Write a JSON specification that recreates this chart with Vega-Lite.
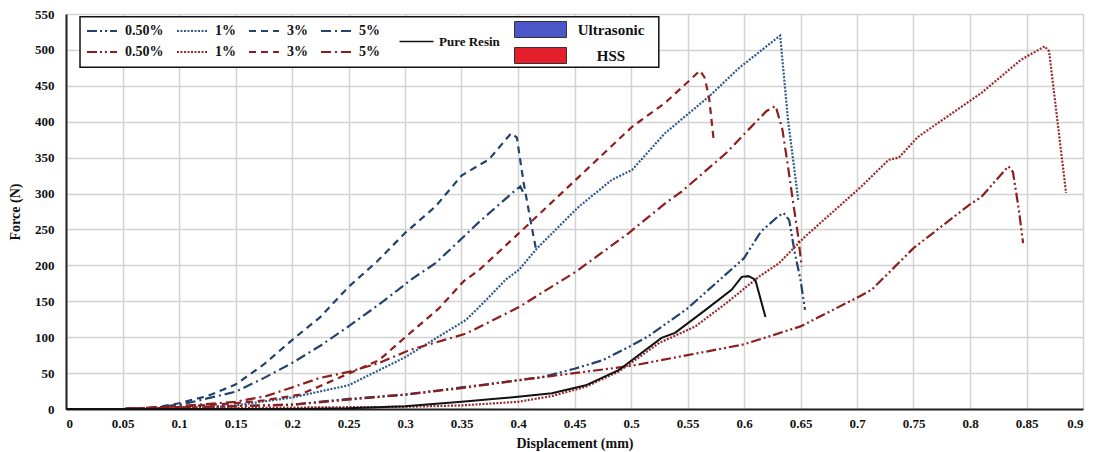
{
  "$schema": "https://vega.github.io/schema/vega-lite/v6.json",
  "width": 1017,
  "height": 395,
  "autosize": {"type": "none"},
  "padding": {"left": 66, "top": 14, "right": 21, "bottom": 43},
  "background": "white",
  "config": {
    "view": {"stroke": null},
    "font": "Liberation Serif",
    "axisX": {
      "values": [0,0.05,0.1,0.15,0.2,0.25,0.3,0.35,0.4,0.45,0.5,0.55,0.6,0.65,0.7,0.75,0.8,0.85,0.9],
      "labelExpr": "format(datum.value, '~g')",
      "grid": true, "gridColor": "#d2d2d2", "gridWidth": 1.5,
      "domainColor": "#222", "domainWidth": 2, "ticks": false, "labelOverlap": false,
      "labelFont": "Liberation Serif", "labelFontWeight": "bold", "labelFontSize": 13, "labelColor": "#111", "labelPadding": 8,
      "titleFont": "Liberation Serif", "titleFontWeight": "bold", "titleFontSize": 14, "titleColor": "#111", "titlePadding": 6
    },
    "axisY": {
      "values": [0,50,100,150,200,250,300,350,400,450,500,550],
      "grid": true, "gridColor": "#d2d2d2", "gridWidth": 1.5,
      "domainColor": "#222", "domainWidth": 2, "ticks": false, "labelOverlap": false,
      "labelFont": "Liberation Serif", "labelFontWeight": "bold", "labelFontSize": 13, "labelColor": "#111", "labelPadding": 12,
      "titleFont": "Liberation Serif", "titleFontWeight": "bold", "titleFontSize": 14, "titleColor": "#111", "titlePadding": 12
    }
  },
  "datasets": {
    "curves": [
      {"series":"U 0.50%","d":0,"f":0},{"series":"U 0.50%","d":0.05,"f":0},{"series":"U 0.50%","d":0.1,"f":2},{"series":"U 0.50%","d":0.15,"f":4},{"series":"U 0.50%","d":0.2,"f":6},{"series":"U 0.50%","d":0.25,"f":14},{"series":"U 0.50%","d":0.3,"f":20},{"series":"U 0.50%","d":0.35,"f":30},{"series":"U 0.50%","d":0.4,"f":40},{"series":"U 0.50%","d":0.42,"f":44},{"series":"U 0.50%","d":0.45,"f":56},{"series":"U 0.50%","d":0.475,"f":68},{"series":"U 0.50%","d":0.5,"f":88},{"series":"U 0.50%","d":0.515,"f":101},{"series":"U 0.50%","d":0.55,"f":140},{"series":"U 0.50%","d":0.58,"f":182},{"series":"U 0.50%","d":0.6,"f":210},{"series":"U 0.50%","d":0.615,"f":247},{"series":"U 0.50%","d":0.63,"f":268},{"series":"U 0.50%","d":0.635,"f":273},{"series":"U 0.50%","d":0.64,"f":263},{"series":"U 0.50%","d":0.645,"f":217},{"series":"U 0.50%","d":0.65,"f":180},{"series":"U 0.50%","d":0.654,"f":138},
      {"series":"U 1%","d":0,"f":0},{"series":"U 1%","d":0.05,"f":0},{"series":"U 1%","d":0.1,"f":2},{"series":"U 1%","d":0.133,"f":3},{"series":"U 1%","d":0.15,"f":5},{"series":"U 1%","d":0.2,"f":16},{"series":"U 1%","d":0.25,"f":33},{"series":"U 1%","d":0.3,"f":72},{"series":"U 1%","d":0.33,"f":101},{"series":"U 1%","d":0.354,"f":124},{"series":"U 1%","d":0.372,"f":152},{"series":"U 1%","d":0.389,"f":180},{"series":"U 1%","d":0.401,"f":194},{"series":"U 1%","d":0.417,"f":224},{"series":"U 1%","d":0.454,"f":282},{"series":"U 1%","d":0.483,"f":319},{"series":"U 1%","d":0.501,"f":333},{"series":"U 1%","d":0.53,"f":384},{"series":"U 1%","d":0.569,"f":435},{"series":"U 1%","d":0.595,"f":474},{"series":"U 1%","d":0.632,"f":520},{"series":"U 1%","d":0.639,"f":402},{"series":"U 1%","d":0.648,"f":291},
      {"series":"U 3%","d":0,"f":0},{"series":"U 3%","d":0.05,"f":0},{"series":"U 3%","d":0.07,"f":1},{"series":"U 3%","d":0.083,"f":3},{"series":"U 3%","d":0.1,"f":8},{"series":"U 3%","d":0.125,"f":18},{"series":"U 3%","d":0.15,"f":34},{"series":"U 3%","d":0.175,"f":62},{"series":"U 3%","d":0.2,"f":96},{"series":"U 3%","d":0.225,"f":128},{"series":"U 3%","d":0.25,"f":170},{"series":"U 3%","d":0.275,"f":205},{"series":"U 3%","d":0.3,"f":245},{"series":"U 3%","d":0.327,"f":282},{"series":"U 3%","d":0.35,"f":325},{"series":"U 3%","d":0.366,"f":340},{"series":"U 3%","d":0.374,"f":347},{"series":"U 3%","d":0.394,"f":384},{"series":"U 3%","d":0.399,"f":378},{"series":"U 3%","d":0.405,"f":315},{"series":"U 3%","d":0.411,"f":263},{"series":"U 3%","d":0.416,"f":222},
      {"series":"U 5%","d":0,"f":0},{"series":"U 5%","d":0.05,"f":0},{"series":"U 5%","d":0.08,"f":2},{"series":"U 5%","d":0.107,"f":8},{"series":"U 5%","d":0.15,"f":24},{"series":"U 5%","d":0.175,"f":43},{"series":"U 5%","d":0.2,"f":64},{"series":"U 5%","d":0.225,"f":88},{"series":"U 5%","d":0.25,"f":115},{"series":"U 5%","d":0.28,"f":149},{"series":"U 5%","d":0.307,"f":182},{"series":"U 5%","d":0.327,"f":203},{"series":"U 5%","d":0.35,"f":237},{"series":"U 5%","d":0.366,"f":261},{"series":"U 5%","d":0.398,"f":305},{"series":"U 5%","d":0.402,"f":310},{"series":"U 5%","d":0.405,"f":300},
      {"series":"H 0.50%","d":0,"f":0},{"series":"H 0.50%","d":0.05,"f":0},{"series":"H 0.50%","d":0.1,"f":2},{"series":"H 0.50%","d":0.15,"f":4},{"series":"H 0.50%","d":0.2,"f":6},{"series":"H 0.50%","d":0.25,"f":13},{"series":"H 0.50%","d":0.3,"f":20},{"series":"H 0.50%","d":0.35,"f":29},{"series":"H 0.50%","d":0.4,"f":40},{"series":"H 0.50%","d":0.45,"f":50},{"series":"H 0.50%","d":0.5,"f":60},{"series":"H 0.50%","d":0.55,"f":75},{"series":"H 0.50%","d":0.6,"f":90},{"series":"H 0.50%","d":0.65,"f":115},{"series":"H 0.50%","d":0.7,"f":155},{"series":"H 0.50%","d":0.713,"f":166},{"series":"H 0.50%","d":0.75,"f":224},{"series":"H 0.50%","d":0.8,"f":285},{"series":"H 0.50%","d":0.81,"f":295},{"series":"H 0.50%","d":0.834,"f":338},{"series":"H 0.50%","d":0.838,"f":330},{"series":"H 0.50%","d":0.843,"f":280},{"series":"H 0.50%","d":0.847,"f":231},
      {"series":"H 1%","d":0,"f":0},{"series":"H 1%","d":0.05,"f":0},{"series":"H 1%","d":0.1,"f":1},{"series":"H 1%","d":0.2,"f":2},{"series":"H 1%","d":0.3,"f":3},{"series":"H 1%","d":0.35,"f":5},{"series":"H 1%","d":0.4,"f":10},{"series":"H 1%","d":0.43,"f":18},{"series":"H 1%","d":0.46,"f":31},{"series":"H 1%","d":0.489,"f":52},{"series":"H 1%","d":0.525,"f":92},{"series":"H 1%","d":0.557,"f":115},{"series":"H 1%","d":0.584,"f":147},{"series":"H 1%","d":0.613,"f":184},{"series":"H 1%","d":0.631,"f":203},{"series":"H 1%","d":0.654,"f":240},{"series":"H 1%","d":0.704,"f":310},{"series":"H 1%","d":0.728,"f":347},{"series":"H 1%","d":0.737,"f":350},{"series":"H 1%","d":0.754,"f":379},{"series":"H 1%","d":0.81,"f":440},{"series":"H 1%","d":0.845,"f":486},{"series":"H 1%","d":0.866,"f":505},{"series":"H 1%","d":0.87,"f":498},{"series":"H 1%","d":0.885,"f":301},
      {"series":"H 3%","d":0,"f":0},{"series":"H 3%","d":0.05,"f":0},{"series":"H 3%","d":0.1,"f":3},{"series":"H 3%","d":0.15,"f":8},{"series":"H 3%","d":0.175,"f":12},{"series":"H 3%","d":0.207,"f":20},{"series":"H 3%","d":0.225,"f":32},{"series":"H 3%","d":0.257,"f":54},{"series":"H 3%","d":0.277,"f":68},{"series":"H 3%","d":0.301,"f":101},{"series":"H 3%","d":0.33,"f":140},{"series":"H 3%","d":0.352,"f":178},{"series":"H 3%","d":0.366,"f":194},{"series":"H 3%","d":0.401,"f":245},{"series":"H 3%","d":0.451,"f":319},{"series":"H 3%","d":0.501,"f":393},{"series":"H 3%","d":0.53,"f":426},{"series":"H 3%","d":0.561,"f":471},{"series":"H 3%","d":0.565,"f":462},{"series":"H 3%","d":0.569,"f":435},{"series":"H 3%","d":0.573,"f":377},
      {"series":"H 5%","d":0,"f":0},{"series":"H 5%","d":0.05,"f":0},{"series":"H 5%","d":0.1,"f":4},{"series":"H 5%","d":0.15,"f":10},{"series":"H 5%","d":0.177,"f":18},{"series":"H 5%","d":0.2,"f":30},{"series":"H 5%","d":0.224,"f":43},{"series":"H 5%","d":0.251,"f":52},{"series":"H 5%","d":0.277,"f":64},{"series":"H 5%","d":0.304,"f":82},{"series":"H 5%","d":0.354,"f":105},{"series":"H 5%","d":0.401,"f":142},{"series":"H 5%","d":0.451,"f":191},{"series":"H 5%","d":0.498,"f":245},{"series":"H 5%","d":0.53,"f":286},{"series":"H 5%","d":0.545,"f":303},{"series":"H 5%","d":0.584,"f":356},{"series":"H 5%","d":0.604,"f":389},{"series":"H 5%","d":0.62,"f":415},{"series":"H 5%","d":0.628,"f":422},{"series":"H 5%","d":0.634,"f":389},{"series":"H 5%","d":0.639,"f":337},{"series":"H 5%","d":0.644,"f":282},{"series":"H 5%","d":0.648,"f":240},{"series":"H 5%","d":0.651,"f":198},
      {"series":"Pure Resin","d":0,"f":0},{"series":"Pure Resin","d":0.1,"f":0},{"series":"Pure Resin","d":0.2,"f":0},{"series":"Pure Resin","d":0.25,"f":1},{"series":"Pure Resin","d":0.3,"f":4},{"series":"Pure Resin","d":0.35,"f":10},{"series":"Pure Resin","d":0.4,"f":17},{"series":"Pure Resin","d":0.43,"f":22},{"series":"Pure Resin","d":0.46,"f":33},{"series":"Pure Resin","d":0.489,"f":54},{"series":"Pure Resin","d":0.527,"f":99},{"series":"Pure Resin","d":0.539,"f":106},{"series":"Pure Resin","d":0.566,"f":138},{"series":"Pure Resin","d":0.589,"f":166},{"series":"Pure Resin","d":0.598,"f":184},{"series":"Pure Resin","d":0.604,"f":185},{"series":"Pure Resin","d":0.61,"f":180},{"series":"Pure Resin","d":0.619,"f":128}
    ],
    "groups": [{"g": "Ultrasonic"}, {"g": "HSS"}],
    "frame": [{"box": "legend"}]
  },
  "layer": [
    {
      "data": {"name": "frame"},
      "mark": {"type": "rect", "fill": "white", "stroke": "#111", "strokeWidth": 1.5},
      "encoding": {
        "x": {"datum": 0.0124, "type": "quantitative", "title": "Displacement (mm)", "scale": {"domain": [0, 0.9], "nice": false, "zero": false}},
        "x2": {"datum": 0.5246},
        "y": {"datum": 546, "type": "quantitative", "title": "Force (N)", "scale": {"domain": [0, 550], "nice": false}},
        "y2": {"datum": 476}
      }
    },
    {
      "data": {"name": "curves"},
      "transform": [{"filter": "datum.series !== 'Pure Resin'"}],
      "mark": {"type": "line", "strokeWidth": 2.2},
      "encoding": {
        "x": {"field": "d", "type": "quantitative", "title": "Displacement (mm)", "scale": {"domain": [0, 0.9], "nice": false, "zero": false}},
        "y": {"field": "f", "type": "quantitative", "title": "Force (N)", "scale": {"domain": [0, 550], "nice": false}},
        "color": {
          "field": "series", "type": "nominal",
          "scale": {
            "domain": ["U 0.50%","U 1%","U 3%","U 5%","H 0.50%","H 1%","H 3%","H 5%"],
            "range": ["#23426e","#2f5a8c","#23426e","#23426e","#8e1e1e","#9a2a2a","#8e1e1e","#8e1e1e"]
          },
          "legend": {
            "orient": "none", "legendX": 29, "legendY": 10, "columns": 4, "direction": "horizontal", "title": null, "padding": 0,
            "symbolType": "M-3.75,0L3.75,0", "symbolSize": 64, "symbolStrokeWidth": 2,
            "labelExpr": "split(datum.label, ' ')[1]",
            "labelFont": "Liberation Serif", "labelFontWeight": "bold", "labelFontSize": 14, "labelColor": "#111",
            "labelOffset": 16, "columnPadding": 9, "rowPadding": 7
          }
        },
        "strokeDash": {
          "field": "series", "type": "nominal",
          "scale": {
            "domain": ["U 0.50%","U 1%","U 3%","U 5%","H 0.50%","H 1%","H 3%","H 5%"],
            "range": [[10,3,2,3,2,3],[2,1.5],[7,5],[10,4,2,4],[10,3,2,3,2,3],[2,1.5],[7,5],[10,4,2,4]]
          },
          "legend": {
            "orient": "none", "legendX": 29, "legendY": 10, "columns": 4, "direction": "horizontal", "title": null, "padding": 0,
            "symbolType": "M-3.75,0L3.75,0", "symbolSize": 64, "symbolStrokeWidth": 2,
            "labelExpr": "split(datum.label, ' ')[1]",
            "labelFont": "Liberation Serif", "labelFontWeight": "bold", "labelFontSize": 14, "labelColor": "#111",
            "labelOffset": 16, "columnPadding": 9, "rowPadding": 7
          }
        }
      }
    },
    {
      "data": {"name": "curves"},
      "transform": [{"filter": "datum.series === 'Pure Resin'"}],
      "mark": {"type": "line", "strokeWidth": 2},
      "encoding": {
        "x": {"field": "d", "type": "quantitative", "title": "Displacement (mm)", "scale": {"domain": [0, 0.9], "nice": false, "zero": false}},
        "y": {"field": "f", "type": "quantitative", "title": "Force (N)", "scale": {"domain": [0, 550], "nice": false}},
        "stroke": {
          "field": "series", "type": "nominal",
          "scale": {"domain": ["Pure Resin"], "range": ["#111111"]},
          "legend": {
            "orient": "none", "legendX": 344, "legendY": 21, "title": null, "padding": 0,
            "symbolType": "M-4.25,0L4.25,0", "symbolSize": 64, "symbolStrokeWidth": 1.5,
            "labelFont": "Liberation Serif", "labelFontWeight": "bold", "labelFontSize": 13, "labelColor": "#111",
            "labelOffset": 16
          }
        }
      }
    },
    {
      "data": {"name": "groups"},
      "mark": {"type": "point", "filled": true, "opacity": 0},
      "encoding": {
        "fill": {
          "field": "g", "type": "nominal",
          "scale": {"domain": ["Ultrasonic", "HSS"], "range": ["#4b57c8", "#e3202b"]},
          "legend": {
            "orient": "none", "legendX": 466, "legendY": 7, "title": null, "padding": 0, "direction": "vertical",
            "symbolType": "M-3.25,-1L3.25,-1L3.25,1L-3.25,1Z", "symbolSize": 256,
            "symbolStrokeColor": "#333", "symbolStrokeWidth": 1, "symbolOpacity": 1,
            "labelFont": "Liberation Serif", "labelFontWeight": "bold", "labelFontSize": 15, "labelColor": "#111",
            "labelAlign": "center", "labelOffset": 62, "rowPadding": 5
          }
        }
      }
    }
  ]
}
